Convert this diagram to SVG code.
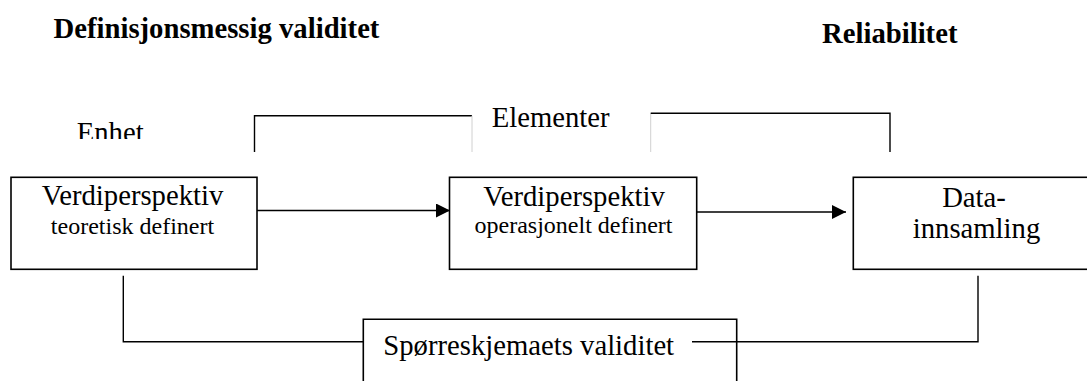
<svg xmlns="http://www.w3.org/2000/svg" width="1087" height="381" viewBox="0 0 1087 381">
<style>
  text { font-family: "Liberation Serif", "Times New Roman", serif; fill: #000; }
  .big { font-size: 28.7px; }
  .small { font-size: 24px; }
  .bold { font-weight: bold; font-size: 28.7px; }
  .box { fill: #fff; stroke: #000; stroke-width: 1.6; }
  .conn { fill: none; stroke: #000; stroke-width: 1.4; }
  .faint { fill: none; stroke: #d0d0d0; stroke-width: 1; }
</style>
<defs>
  <marker id="arrow" markerUnits="userSpaceOnUse" markerWidth="15" markerHeight="15" refX="14" refY="7" orient="auto">
    <path d="M0,0 L14,7 L0,14 Z" fill="#000"/>
  </marker>
  <clipPath id="enhetClip"><rect x="60" y="100" width="120" height="39"/></clipPath>
</defs>
<rect width="1087" height="381" fill="#fff"/>

<g id="titles">
  <text class="bold" x="53.5" y="38.3">Definisjonsmessig validitet</text>
  <text class="bold" x="822" y="42.7">Reliabilitet</text>
</g>

<g id="enhet">
  <text class="big" x="76.7" y="142.3" clip-path="url(#enhetClip)">Enhet</text>
</g>

<g id="elementer">
  <text class="big" x="491.7" y="126.7">Elementer</text>
</g>

<g id="connectors">
  <path class="conn" d="M254.5,152 V115.7 H472"/>
  <path class="faint" d="M472,115.7 V152"/>
  <path class="faint" d="M650.7,113.3 V152"/>
  <path class="conn" d="M650.7,113.3 H890 V152"/>
  <line class="conn" x1="254" y1="210.5" x2="450" y2="210.5" marker-end="url(#arrow)"/>
  <line class="conn" x1="692.7" y1="212" x2="846" y2="212" marker-end="url(#arrow)"/>
  <path class="conn" d="M123.3,275.7 V341.7 H363.3"/>
  <path class="conn" d="M692,341.7 H978 V275.7"/>
</g>

<g id="node-teoretisk">
  <rect class="box" x="11" y="177.3" width="246" height="92"/>
  <text class="big" x="132.5" y="205" text-anchor="middle">Verdiperspektiv</text>
  <text class="small" x="132.5" y="233.5" text-anchor="middle">teoretisk definert</text>
</g>

<g id="node-operasjonelt">
  <rect class="box" x="449.5" y="177.3" width="247.2" height="92"/>
  <text class="big" x="574" y="206" text-anchor="middle">Verdiperspektiv</text>
  <text class="small" x="573.5" y="233" text-anchor="middle">operasjonelt definert</text>
</g>

<g id="node-datainnsamling">
  <rect class="box" x="853.3" y="177.3" width="245" height="92"/>
  <text class="big" x="974" y="206.7" text-anchor="middle">Data-</text>
  <text class="big" x="976.5" y="238.3" text-anchor="middle">innsamling</text>
</g>

<g id="node-sporreskjema">
  <path class="box" d="M363.3,390 V319.3 H736.7 V390"/>
  <text class="big" x="383.3" y="355">Spørreskjemaets validitet</text>
  <line class="conn" x1="692" y1="341.7" x2="736.7" y2="341.7"/>
</g>
</svg>
